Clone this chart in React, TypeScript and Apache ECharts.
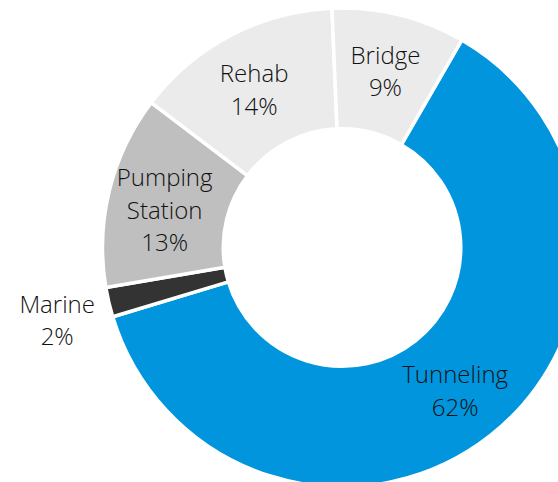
import React, { useEffect, useRef } from "react";
import * as echarts from "echarts";

const categories = ["Tunneling", "Marine", "Pumping Station", "Rehab", "Bridge"];
const values = [62, 2, 13, 14, 9];
const colors = ["#0095dd", "#333333", "#bfbfbf", "#ebebeb", "#ebebeb"];

const labelShift: Record<number, { dx: number; dy: number }> = {
  1: { dx: -107.5, dy: 30.6 },
  2: { dx: -0.5, dy: 5 },
  3: { dx: -3.5, dy: 3 },
};

export default function App() {
  const ref = useRef<HTMLDivElement>(null);
  useEffect(() => {
    if (!ref.current) return;
    const chart = echarts.init(ref.current, null, { renderer: "svg" });
    chart.setOption({
      animation: false,
      backgroundColor: "#ffffff",
      series: [
        {
          type: "pie",
          center: [342, 247.5],
          radius: [118.75, 239.5],
          startAngle: 60,
          clockwise: true,
          avoidLabelOverlap: false,
          itemStyle: { borderColor: "#ffffff", borderWidth: 3.5 },
          label: {
            show: true,
            position: "inside",
            fontFamily: "'Open Sans', sans-serif",
            fontWeight: 300,
            fontSize: 24,
            lineHeight: 32.5,
            color: "#111111",
            formatter: (p: any) =>
              p.name.replace(" ", "\n") + "\n" + Math.round(p.percent) + "%",
          },
          labelLine: { show: false },
          emphasis: { disabled: true },
          labelLayout: (p: any) => labelShift[p.dataIndex] || {},
          data: categories.map((c, i) => ({
            name: c,
            value: values[i],
            itemStyle: { color: colors[i] },
          })),
        },
      ],
    });
    return () => chart.dispose();
  }, []);
  return (
    <div
      ref={ref}
      style={{ position: "absolute", left: 0, top: 0, width: 558, height: 482 }}
    />
  );
}
